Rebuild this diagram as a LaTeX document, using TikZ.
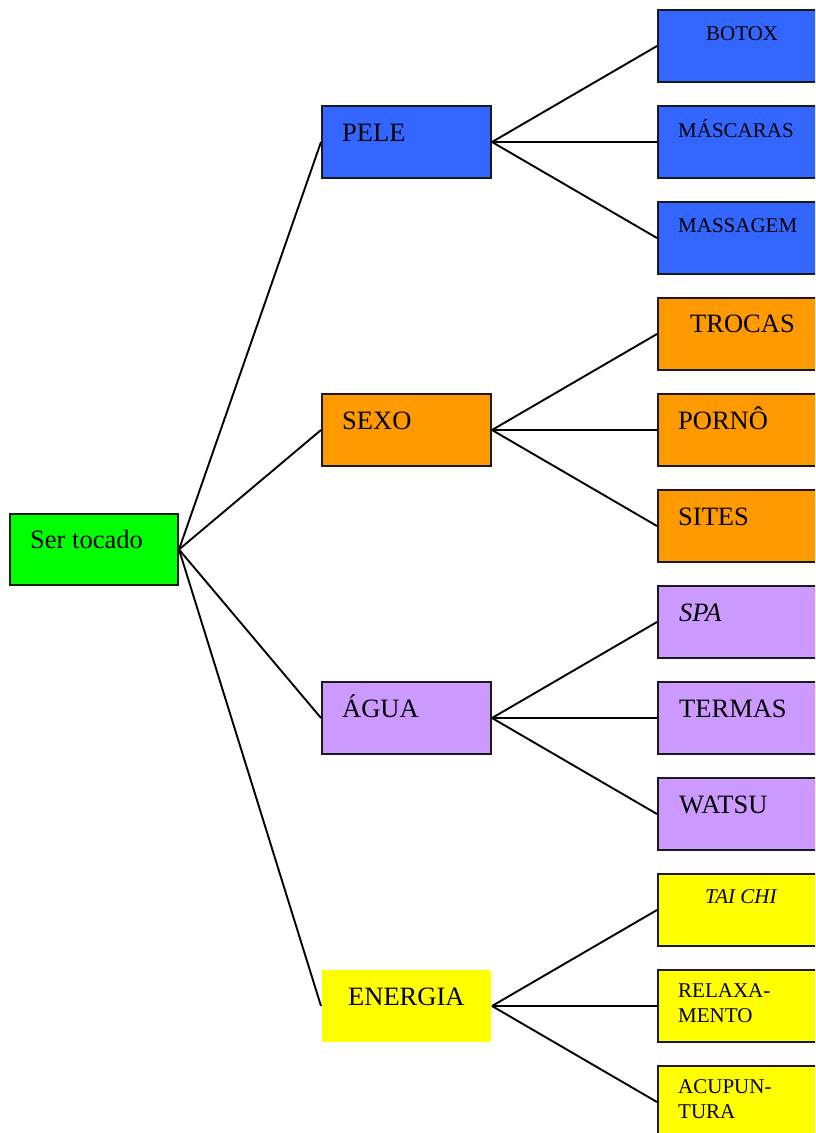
\documentclass[tikz,border=0pt]{standalone}
\usepackage{fontspec}
\setmainfont{Liberation Serif}
\definecolor{cblue}{HTML}{3366FF}
\definecolor{corange}{HTML}{FF9900}
\definecolor{cpurple}{HTML}{CC99FF}
\definecolor{cyellow}{HTML}{FFFF00}
\definecolor{cgreen}{HTML}{00FF00}
\definecolor{cborder}{HTML}{1A1A1A}
\begin{document}
\begin{tikzpicture}[x=1pt,y=-1pt,
  box/.style={draw=cborder,line width=2pt,rectangle,anchor=north west,inner sep=0pt,minimum height=72pt},
  midbox/.style={box,minimum width=169pt},
  leafbox/.style={box,minimum width=180pt},
  big/.style={anchor=base west,inner sep=0pt,font=\fontsize{26.5}{30}\selectfont},
  small/.style={anchor=base west,inner sep=0pt,align=left,font=\fontsize{21}{25}\selectfont},
  conn/.style={line width=1.9pt,black}]
\useasboundingbox (0,0) rectangle (815,1133);
\clip (0,0) rectangle (815,1133);
\fill[white] (0,0) rectangle (815,1133);
% root
\node[box,fill=cgreen,minimum width=168pt,minimum height=71pt] (root) at (9,513) {};
% middle
\node[midbox,fill=cblue] (pele) at (321,105) {};
\node[midbox,fill=corange] (sexo) at (321,393) {};
\node[midbox,fill=cpurple] (agua) at (321,681) {};
\node[midbox,draw=none,fill=cyellow] (energia) at (321,969) {};
% leaves
\node[leafbox,fill=cblue] (botox) at (657,9) {};
\node[leafbox,fill=cblue] (mascaras) at (657,105) {};
\node[leafbox,fill=cblue] (massagem) at (657,201) {};
\node[leafbox,fill=corange] (trocas) at (657,297) {};
\node[leafbox,fill=corange] (porno) at (657,393) {};
\node[leafbox,fill=corange] (sites) at (657,489) {};
\node[leafbox,fill=cpurple] (spa) at (657,585) {};
\node[leafbox,fill=cpurple] (termas) at (657,681) {};
\node[leafbox,fill=cpurple] (watsu) at (657,777) {};
\node[leafbox,fill=cyellow] (taichi) at (657,873) {};
\node[leafbox,fill=cyellow] (relax) at (657,969) {};
\node[leafbox,fill=cyellow] (acup) at (657,1065) {};
% connectors
\foreach \m in {pele,sexo,agua,energia} \draw[conn] (root.east) -- (\m.west);
\foreach \l in {botox,mascaras,massagem} \draw[conn] (pele.east) -- (\l.west);
\foreach \l in {trocas,porno,sites} \draw[conn] (sexo.east) -- (\l.west);
\foreach \l in {spa,termas,watsu} \draw[conn] (agua.east) -- (\l.west);
\foreach \l in {taichi,relax,acup} \draw[conn] (energia.east) -- (\l.west);
% texts
\node[big] (troot) at (30,548) {Ser tocado};
\node[big] (tpele) at (342,141) {PELE};
\node[big] (tsexo) at (342,429) {SEXO};
\node[big] (tagua) at (342,717) {ÁGUA};
\node[big] (tenergia) at (348,1005) {ENERGIA};
\node[small] (tbotox) at (706,40) {BOTOX};
\node[small] (tmascaras) at (678,137) {MÁSCARAS};
\node[small] (tmassagem) at (678,232) {MASSAGEM};
\node[big] (ttrocas) at (690,332) {TROCAS};
\node[big] (tporno) at (678,429) {PORNÔ};
\node[big] (tsites) at (678,525) {SITES};
\node[big] (tspa) at (679,621) {\itshape SPA};
\node[big] (ttermas) at (679,717) {TERMAS};
\node[big] (twatsu) at (679,813) {WATSU};
\node[small] (ttaichi) at (705,903) {\itshape TAI CHI};
\node[small,anchor=north west] (trelax) at (678,983) {RELAXA-\\MENTO};
\node[small,anchor=north west] (tacup) at (678,1079) {ACUPUN-\\TURA};
\end{tikzpicture}
\end{document}
